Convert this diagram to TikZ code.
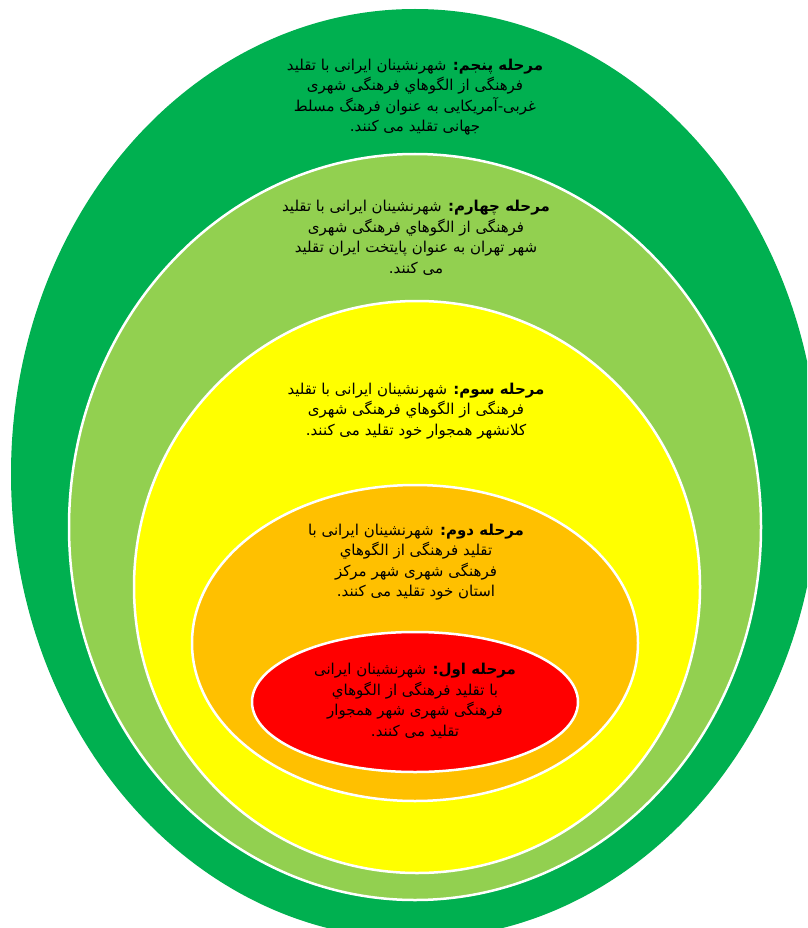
\documentclass[tikz,border=0pt]{standalone}
\usepackage{fontspec}
\TeXXeTstate=1
\newfontfamily\arabicfont[Script=Arabic]{DejaVu Sans}
\newcommand{\myRL}[1]{\beginR #1\endR}
\definecolor{gDark}{HTML}{00B050}
\definecolor{gLight}{HTML}{92D050}
\definecolor{yel}{HTML}{FFFF00}
\definecolor{ora}{HTML}{FFC000}
\definecolor{redc}{HTML}{FF0000}
\tikzset{
  ring/.style={draw=white, line width=2.5pt},
  stagetext/.style={align=center, inner sep=0pt, text=black,
    font=\arabicfont\fontsize{15}{20.5}\selectfont}
}
\begin{document}
\begin{tikzpicture}[x=1pt,y=-1pt]
\useasboundingbox (0,0) rectangle (807,928);
\begin{scope}
\clip (0,0) rectangle (807,928);
\fill[gDark] (415,474) ellipse [x radius=404pt, y radius=465pt];
\filldraw[gLight, ring] (415,527) ellipse [x radius=346pt, y radius=373pt];
\filldraw[yel, ring] (417,587) ellipse [x radius=283pt, y radius=286pt];
\filldraw[ora, ring] (415,643) ellipse [x radius=223pt, y radius=158pt];
\filldraw[redc, ring] (415,702) ellipse [x radius=163pt, y radius=70pt];
\end{scope}
\node[stagetext] (t5) at (415,97) {\myRL{{\bfseries مرحله پنجم:} شهرنشینان ایرانی با تقلید}\\
\myRL{فرهنگی از الگوهاي فرهنگی شهری}\\
\myRL{غربی-آمریکایی به عنوان فرهنگ مسلط}\\
\myRL{جهانی تقلید می کنند.}};
\node[stagetext] (t4) at (416,238) {\myRL{{\bfseries مرحله چهارم:} شهرنشینان ایرانی با تقلید}\\
\myRL{فرهنگی از الگوهاي فرهنگی شهری}\\
\myRL{شهر تهران به عنوان پایتخت ایران تقلید}\\
\myRL{می کنند.}};
\node[stagetext] (t3) at (416,411) {\myRL{{\bfseries مرحله سوم:} شهرنشینان ایرانی با تقلید}\\
\myRL{فرهنگی از الگوهاي فرهنگی شهری}\\
\myRL{کلانشهر همجوار خود تقلید می کنند.}};
\node[stagetext] (t2) at (416,562) {\myRL{{\bfseries مرحله دوم:} شهرنشینان ایرانی با}\\
\myRL{تقلید فرهنگی از الگوهاي}\\
\myRL{فرهنگی شهری شهر مرکز}\\
\myRL{استان خود تقلید می کنند.}};
\node[stagetext] (t1) at (415,701) {\myRL{{\bfseries مرحله اول:} شهرنشینان ایرانی}\\
\myRL{با تقلید فرهنگی از الگوهاي}\\
\myRL{فرهنگی شهری شهر همجوار}\\
\myRL{تقلید می کنند.}};
\end{tikzpicture}
\end{document}
